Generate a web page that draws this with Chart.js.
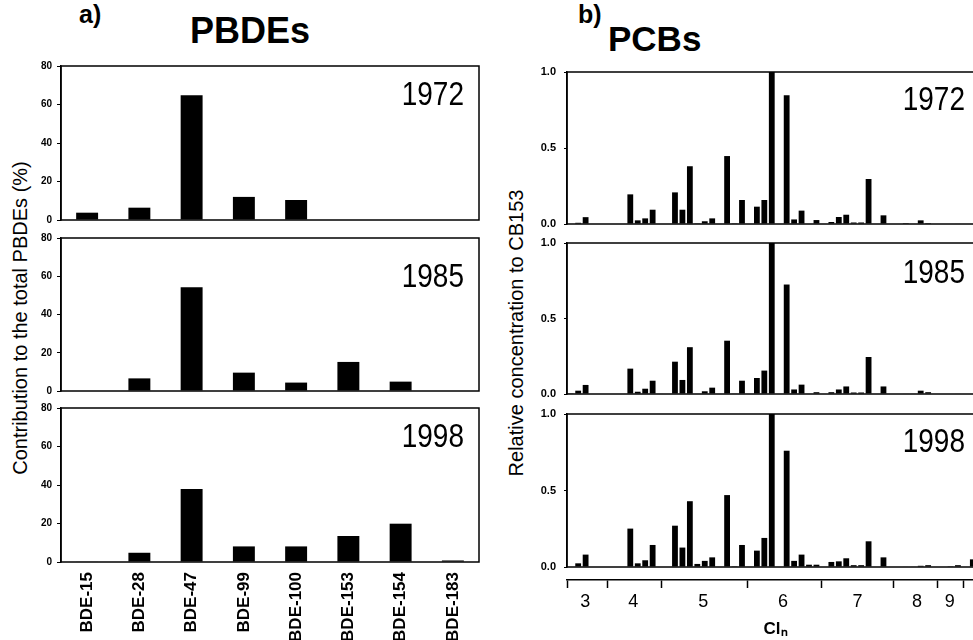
<!DOCTYPE html>
<html>
<head>
<meta charset="utf-8">
<script src="https://cdn.jsdelivr.net/npm/chart.js@4.4.0/dist/chart.umd.min.js"></script>
<style>
  html, body { margin: 0; padding: 0; background: #fff; }
  body { width: 973px; height: 640px; overflow: hidden; position: relative; font-family: Arial, "Liberation Sans", sans-serif; }
  canvas, .txt { position: absolute; }
  .txt { line-height: 1; white-space: nowrap; color: #000; }
  .rot { transform-origin: center; transform: translate(-50%, -50%) rotate(-90deg); }
</style>
</head>
<body>
<div class="txt" style="left:79px;top:2px;font-size:25px;font-weight:bold">a)</div>
<div class="txt" style="left:190px;top:13px;font-size:36px;font-weight:bold">PBDEs</div>
<div class="txt" style="left:578px;top:2px;font-size:25px;font-weight:bold">b)</div>
<div class="txt" style="left:608px;top:21px;font-size:35px;font-weight:bold">PCBs</div>
<div class="txt rot" style="left:20px;top:318px;font-size:20px">Contribution to the total PBDEs (%)</div>
<div class="txt rot" style="left:516px;top:333px;font-size:20px">Relative concentration to CB153</div>

<canvas id="a1" width="490" height="168" style="left:0;top:58px"></canvas>
<canvas id="a2" width="490" height="167" style="left:0;top:230px"></canvas>
<canvas id="a3" width="490" height="240" style="left:0;top:400px"></canvas>
<canvas id="b1" width="490" height="166" style="left:500px;top:64px"></canvas>
<canvas id="b2" width="490" height="165" style="left:500px;top:235px"></canvas>
<canvas id="b3" width="490" height="234" style="left:500px;top:406px"></canvas>

<script>
// --- dados ---
const bdeLabels = ['BDE-15', 'BDE-28', 'BDE-47', 'BDE-99', 'BDE-100', 'BDE-153', 'BDE-154', 'BDE-183'];
const bde1972 = [3.8, 6.4, 64.8, 12, 10.4, 0, 0, 0];
const bde1985 = [0, 6.6, 54.2, 9.6, 4.4, 15.2, 4.9, 0];
const bde1998 = [0.3, 4.8, 37.9, 8.1, 8.1, 13.5, 19.9, 0.8];
const bdeTicks = [0, 20, 40, 60, 80];

// PCBs: uma posição por congênere (sem nomes na figura)
const pcb1972 = [0, 0.008, 0.045, 0, 0, 0, 0, 0, 0.195, 0.024, 0.037, 0.094, 0, 0, 0.208, 0.094, 0.38, 0.005, 0.018, 0.037,
  0, 0.447, 0.005, 0.158, 0, 0.114, 0.158, 1.0, 0, 0.847, 0.03, 0.088, 0, 0.026, 0, 0.013, 0.046, 0.061, 0.01, 0.01,
  0.296, 0, 0.057, 0, 0, 0.006, 0, 0.024, 0.006, 0, 0, 0, 0.003, 0, 0, 0];
const pcb1985 = [0.005, 0.022, 0.06, 0, 0, 0, 0, 0, 0.168, 0.015, 0.035, 0.088, 0.003, 0, 0.214, 0.093, 0.31, 0.003, 0.018, 0.042,
  0, 0.353, 0.004, 0.088, 0, 0.106, 0.155, 1.0, 0, 0.725, 0.03, 0.062, 0.003, 0.012, 0, 0.012, 0.03, 0.05, 0.01, 0.01,
  0.245, 0, 0.05, 0, 0, 0.003, 0.003, 0.022, 0.012, 0, 0, 0, 0.003, 0, 0, 0];
const pcb1998 = [0, 0.024, 0.081, 0, 0, 0, 0, 0, 0.251, 0.024, 0.044, 0.144, 0, 0, 0.27, 0.127, 0.43, 0.02, 0.04, 0.063,
  0, 0.47, 0.005, 0.144, 0.003, 0.107, 0.19, 1.0, 0, 0.76, 0.04, 0.081, 0.015, 0.015, 0, 0.033, 0.037, 0.057, 0.012, 0.012,
  0.168, 0, 0.063, 0, 0, 0.003, 0.003, 0.008, 0.012, 0, 0, 0.005, 0.012, 0, 0.05, 0];
const pcbTicks = [0, 0.5, 1.0];

// eixo Cl_n: limites dos grupos e posição dos rótulos (em posições de congênere)
const clBounds = [-0.5, 5.0, 12.25, 23.7, 33.7, 43.4, 49.3, 52.7];
const clLabelPos = [1.96, 8.4, 17.8, 28.5, 38.5, 46.5, 50.9];
const clLabels = ['3', '4', '5', '6', '7', '8', '9'];

Chart.defaults.font.family = 'Arial, "Liberation Sans", sans-serif';
Chart.defaults.color = '#000';

// moldura + ano no canto
const frame = {
  id: 'frame',
  afterDraw(chart, args, opts) {
    const a = chart.chartArea, ctx = chart.ctx;
    ctx.save();
    ctx.strokeStyle = '#000';
    ctx.lineWidth = 1.5;
    ctx.strokeRect(a.left, a.top, a.right - a.left, a.bottom - a.top);
    if (opts.text) {
      ctx.translate(a.right - opts.dx, a.top + opts.dy);
      ctx.scale(1, 1.2);
      ctx.font = '28px Arial, "Liberation Sans", sans-serif';
      ctx.textAlign = 'right';
      ctx.fillStyle = '#000';
      ctx.fillText(opts.text, 0, 0);
    }
    ctx.restore();
  }
};

// fixa largura do eixo y e zera a folga dos rótulos (a área fica só com o padding do layout)
function pinY(width) {
  return s => { s.width = width; s.paddingTop = 0; s.paddingBottom = 0; };
}

function bdeChart(id, values, year, dy, showX) {
  return new Chart(document.getElementById(id), {
    type: 'bar',
    data: { labels: bdeLabels, datasets: [{ data: values, backgroundColor: '#000', barPercentage: 0.42, categoryPercentage: 1 }] },
    options: {
      responsive: false, animation: false, devicePixelRatio: 1,
      layout: { padding: { top: 8, right: 11, bottom: showX ? 0 : 6, left: 0 } },
      plugins: { legend: { display: false }, tooltip: { enabled: false }, frame: { text: year, dx: 15, dy: dy } },
      scales: {
        x: {
          display: showX,
          grid: { display: false }, border: { display: false },
          ticks: { autoSkip: false, minRotation: 90, maxRotation: 90, padding: 2, font: { size: 17, weight: 'bold' } },
          afterFit: s => { if (showX) s.height = 78; }
        },
        y: {
          min: 0, max: 80,
          afterBuildTicks: s => { s.ticks = bdeTicks.map(v => ({ value: v })); },
          grid: { drawOnChartArea: false, tickLength: 4, color: '#000' },
          border: { color: '#000', width: 1.5 },
          ticks: { padding: 5, font: { size: 10, weight: 'bold' } },
          afterFit: pinY(61)
        }
      }
    },
    plugins: [frame]
  });
}

function pcbChart(id, values, year, dy, bottom) {
  const scales = {
    x: {
      display: bottom,
      grid: { display: false }, border: { display: false },
      ticks: { display: false },
      afterFit: s => { if (bottom) s.height = 13; }
    },
    y: {
      min: 0, max: 1,
      afterBuildTicks: s => { s.ticks = pcbTicks.map(v => ({ value: v })); },
      grid: { drawOnChartArea: false, tickLength: 3, color: '#000' },
      border: { color: '#000', width: 1.5 },
      ticks: { padding: 8, font: { size: 11, weight: 'bold' }, callback: v => v.toFixed(1) },
      afterFit: pinY(67)
    }
  };
  if (bottom) {
    scales.xb = {
      type: 'linear', position: 'bottom', weight: 1, offset: false,
      min: -0.5, max: values.length - 0.5,
      afterBuildTicks: s => { s.ticks = clBounds.concat(clLabelPos).map(v => ({ value: v })); },
      grid: {
        offset: false, drawOnChartArea: false, tickLength: 8, tickWidth: 1.5,
        tickColor: c => (c.index < clBounds.length ? '#000' : 'rgba(0,0,0,0)')
      },
      border: { display: true, color: '#000', width: 1.5 },
      ticks: {
        autoSkip: false, maxRotation: 0, padding: 3, font: { size: 18 },
        callback: (v, i) => (i < clBounds.length ? '' : clLabels[i - clBounds.length])
      },
      title: { display: true, text: 'Clₙ', font: { size: 17, weight: 'bold' }, padding: { top: 6, bottom: 0 } },
      afterFit: s => { s.height = 60; }
    };
  }
  return new Chart(document.getElementById(id), {
    type: 'bar',
    data: {
      labels: values.map((_, i) => String(i)),
      datasets: [{ data: values, backgroundColor: '#000', barPercentage: 0.78, categoryPercentage: 1, xAxisID: 'x' }]
    },
    options: {
      responsive: false, animation: false, devicePixelRatio: 1,
      layout: { padding: { top: 8, right: 6, bottom: bottom ? 0 : 6, left: 0 } },
      plugins: { legend: { display: false }, tooltip: { enabled: false }, frame: { text: year, dx: 19, dy: dy } },
      scales: scales
    },
    plugins: [frame]
  });
}

bdeChart('a1', bde1972, '1972', 39, false);
bdeChart('a2', bde1985, '1985', 49, false);
bdeChart('a3', bde1998, '1998', 39, true);
pcbChart('b1', pcb1972, '1972', 38, false);
pcbChart('b2', pcb1985, '1985', 40, false);
pcbChart('b3', pcb1998, '1998', 38, true);
</script>
</body>
</html>
